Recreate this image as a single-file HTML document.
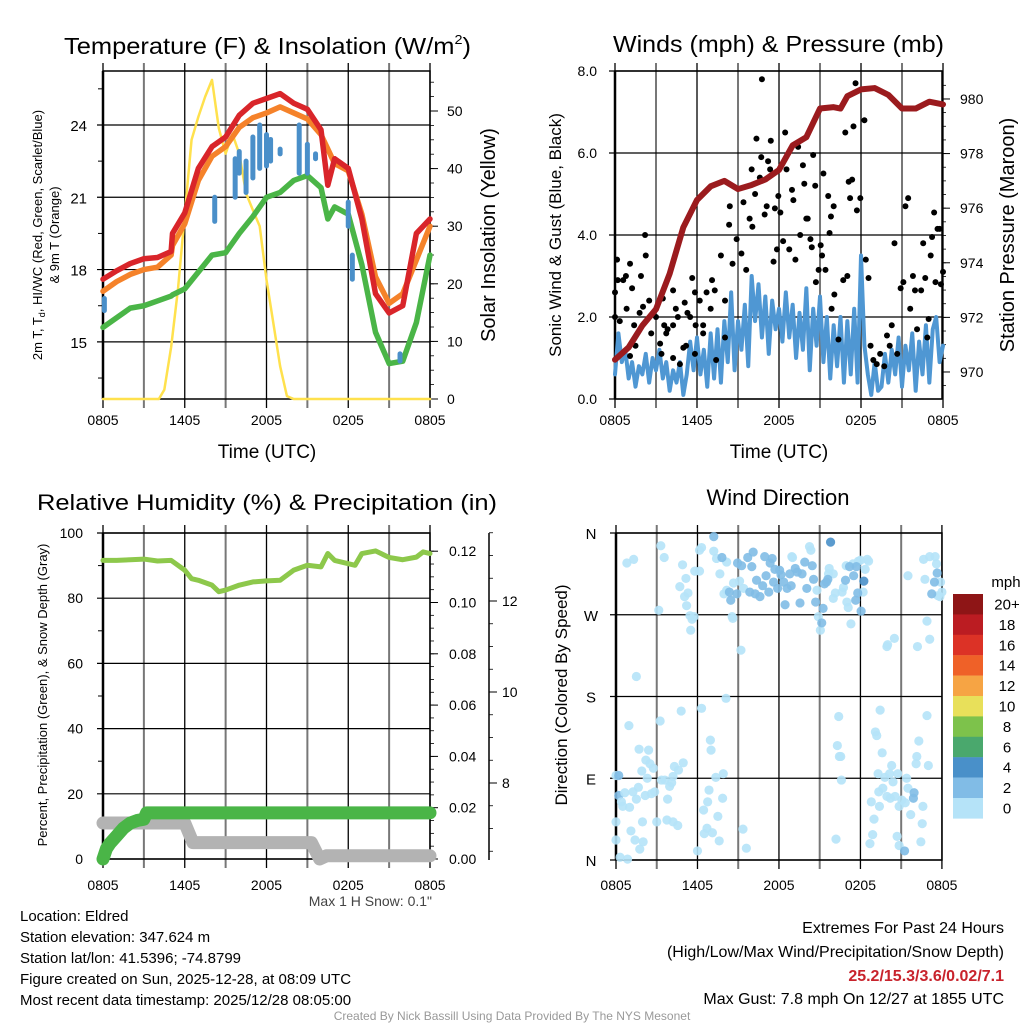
<!DOCTYPE html>
<html><head><meta charset="utf-8"><style>
html,body{margin:0;padding:0;background:#fff}
svg{display:block;font-family:"Liberation Sans",sans-serif}
</style></head><body>
<svg id="svg" width="1024" height="1024" viewBox="0 0 1024 1024" xmlns="http://www.w3.org/2000/svg">
<g id="g"></g>
<text x="64" y="54" font-size="23" textLength="407" lengthAdjust="spacingAndGlyphs">Temperature (F) &amp; Insolation (W/m<tspan font-size="13" dy="-10">2</tspan><tspan dy="10">)</tspan></text>
<text x="613" y="52" font-size="23" textLength="331" lengthAdjust="spacingAndGlyphs">Winds (mph) &amp; Pressure (mb)</text>
<text x="37" y="510" font-size="22" textLength="460" lengthAdjust="spacingAndGlyphs">Relative Humidity (%) &amp; Precipitation (in)</text>
<text x="778" y="505" font-size="22" text-anchor="middle">Wind Direction</text>
<text x="267" y="458" font-size="19" text-anchor="middle">Time (UTC)</text>
<text x="779" y="458" font-size="19" text-anchor="middle">Time (UTC)</text>
<text font-size="13" text-anchor="middle" transform="translate(42,235) rotate(-90)">2m T, T<tspan font-size="9" dy="3">d</tspan><tspan dy="-3">, HI/WC (Red, Green, Scarlet/Blue)</tspan></text>
<text font-size="13" text-anchor="middle" transform="translate(59,235) rotate(-90)">&amp; 9m T (Orange)</text>
<text font-size="20" text-anchor="middle" transform="translate(495,235) rotate(-90)">Solar Insolation (Yellow)</text>
<text font-size="17" text-anchor="middle" transform="translate(561,235) rotate(-90)">Sonic Wind &amp; Gust (Blue, Black)</text>
<text font-size="20" text-anchor="middle" transform="translate(1014,235) rotate(-90)">Station Pressure (Maroon)</text>
<text font-size="13" text-anchor="middle" transform="translate(47,695) rotate(-90)">Percent, Precipitation (Green), &amp; Snow Depth (Gray)</text>
<text font-size="17" text-anchor="middle" transform="translate(567,695) rotate(-90)">Direction (Colored By Speed)</text>
<text x="432" y="906" font-size="14" fill="#444" text-anchor="end">Max 1 H Snow: 0.1"</text>
<g font-size="15">
<text x="20" y="921">Location: Eldred</text>
<text x="20" y="942">Station elevation: 347.624 m</text>
<text x="20" y="963">Station lat/lon: 41.5396; -74.8799</text>
<text x="20" y="984">Figure created on Sun, 2025-12-28, at 08:09 UTC</text>
<text x="20" y="1005">Most recent data timestamp: 2025/12/28 08:05:00</text>
</g>
<g font-size="16" text-anchor="end">
<text x="1004" y="933">Extremes For Past 24 Hours</text>
<text x="1004" y="957">(High/Low/Max Wind/Precipitation/Snow Depth)</text>
<text x="1004" y="981" fill="#c8232c" font-weight="bold">25.2/15.3/3.6/0.02/7.1</text>
<text x="1004" y="1004">Max Gust: 7.8 mph On 12/27 at 1855 UTC</text>
</g>
<text x="512" y="1020" font-size="12" fill="#999" text-anchor="middle">Created By Nick Bassill Using Data Provided By The NYS Mesonet</text>
</svg>
<script>
// ---------- data ----------
const timeTickLabels=["0805","1405","2005","0205","0805"];
const tempHours=[0,1,2,3,4,5,5.1,6,7,8,9,10,11,12,13,14,15,16,16.5,17,18,19,20,21,22,23,24];
const temp2m=[17.6,17.95,18.25,18.45,18.5,18.75,19.5,20.35,22.2,23.1,23.5,24.4,24.9,25.1,25.3,24.9,24.65,23.8,21.5,22.6,22.2,20.1,17.0,16.2,16.5,19.5,20.1];
const temp9m=[17.1,17.5,17.8,18.0,18.1,18.6,19.0,19.9,21.7,22.7,23.1,23.9,24.3,24.5,24.75,24.5,24.25,23.6,23.0,22.4,22.1,20.3,17.7,16.6,17.0,18.4,19.8];
const dewpoint=[15.6,16.0,16.4,16.5,16.7,16.9,16.95,17.2,17.9,18.6,18.7,19.5,20.2,21.0,21.2,21.7,21.9,21.4,20.1,20.6,20.3,18.2,15.4,14.1,14.2,15.8,18.6];
const hiwcSegs=[[0.1,16.3,16.8],[8.2,20.0,21.0],[9.7,21.0,22.6],[10,22,22.9],[10.5,21.2,22.5],[11,21.8,23.5],[11.5,22.2,24.0],[12,22.3,23.6],[12.3,22.5,23.4],[13,22.8,23.0],[14.4,22.0,24.0],[15,22.0,23.2],[15.6,22.6,22.8],[18.0,19.8,20.8],[18.3,17.6,18.6],[21.8,14.2,14.5]];
const solarHours=[0,4.1,4.5,5,5.5,6,6.5,7,7.5,8,8.5,9,9.5,10,10.5,11,11.5,12,12.5,13,13.5,14,24];
const solar=[0,0,1.6,9,19,32,45,49,52.5,55.4,47,42.6,46,42.6,35.7,32.8,30,20.7,13.2,5.7,0.5,0,0];
const tempTicks=[15,18,21,24];
const solarTicks=[0,10,20,30,40,50];

const pressHours=[0,1,2,3,4,5,6,7,8,9,10,11,12,13,14,15,16,16.5,17,18,19,20,21,22,23,24];
const pressure=[970.45,970.9,971.7,972.3,973.6,975.3,976.3,976.8,977.0,976.7,976.85,977.05,977.4,978.3,978.6,979.65,979.7,979.65,980.1,980.35,980.4,980.15,979.65,979.65,979.9,979.8];
const windSpeed=[0.6,1.6,0.9,1.2,0.5,0.9,0.3,0.8,0.6,1.1,0.4,1.0,0.7,1.2,0.5,0.9,0.2,0.7,0.4,0.9,0.1,0.6,1.4,0.7,1.5,0.6,1.2,0.3,1.6,0.5,1.7,0.4,1.9,0.9,2.6,0.7,1.9,1.2,2.3,0.8,3.0,1.9,2.8,1.5,2.5,1.1,2.4,1.7,2.2,1.4,2.6,1.5,2.3,1.0,2.1,1.2,2.7,0.7,2.2,1.3,2.5,0.9,2.0,0.5,1.8,0.8,2.0,0.4,1.9,0.6,2.2,0.4,3.5,1.3,0.6,0.1,0.9,0.2,0.3,1.1,0.4,1.2,0.6,1.5,0.3,1.3,0.7,1.6,0.2,1.4,0.6,1.8,0.4,1.7,2.0,0.9,1.3];
const gusts=[[0,2.6],[0.15,3.4],[0,2.0],[0.2,2.9],[0.35,1.9],[0.6,2.9],[0.8,3.0],[1.1,3.3],[1.25,2.7],[0.85,2.2],[1.1,1.05],[1.4,1.8],[1.5,1.3],[1.8,2.1],[1.9,3.0],[2.2,4.0],[2.25,3.5],[2.05,2.25],[2.5,2.4],[2.65,1.6],[3.0,2.0],[3.3,1.35],[3.4,1.1],[3.5,2.45],[3.6,1.8],[3.75,1.6],[4.25,2.65],[4.25,1.8],[4.6,2.0],[4.75,0.85],[5.0,1.25],[5.1,2.35],[5.3,2.1],[5.65,2.95],[5.85,1.1],[5.85,2.6],[6.2,2.4],[6.45,1.8],[6.7,2.6],[7.0,2.2],[7.1,2.9],[7.3,2.65],[7.75,3.5],[8.05,2.4],[8.35,4.25],[8.4,4.7],[8.6,3.3],[8.9,3.9],[9.25,3.55],[9.4,4.8],[9.6,3.15],[9.85,4.4],[10.0,5.6],[10.05,4.2],[10.25,5.0],[10.35,6.35],[10.6,5.4],[10.7,5.9],[10.75,7.8],[10.95,4.5],[11.1,4.7],[11.2,5.8],[11.35,5.6],[11.4,6.3],[11.6,3.35],[11.7,4.65],[11.85,3.65],[11.95,4.95],[12.1,4.55],[12.3,3.85],[12.45,6.5],[12.55,5.6],[12.75,3.65],[12.95,5.1],[13.05,4.85],[13.2,3.4],[13.4,6.15],[13.55,4.0],[13.75,5.7],[13.85,5.25],[14.0,4.4],[14.1,4.4],[14.3,3.9],[14.4,3.7],[14.5,5.95],[14.65,5.2],[14.7,2.85],[14.9,3.15],[15.05,3.75],[15.15,3.5],[15.25,5.5],[15.4,3.15],[15.6,4.95],[15.7,4.05],[15.8,4.45],[16.0,4.7],[15.85,2.2],[16.05,2.55],[16.35,1.45],[16.7,2.9],[16.85,6.5],[17.0,3.0],[17.1,5.3],[17.2,4.9],[17.35,5.35],[17.45,6.65],[17.6,7.7],[17.7,4.6],[17.95,4.9],[18.25,6.8],[18.35,3.4],[18.55,2.95],[18.7,1.3],[18.9,0.95],[19.15,0.85],[19.4,1.1],[19.7,0.8],[19.9,1.55],[20.1,1.3],[20.25,1.8],[20.45,3.8],[20.65,1.1],[20.9,2.7],[21.1,2.85],[21.25,4.7],[21.45,4.9],[21.6,2.2],[21.8,3.0],[21.95,2.65],[22.1,1.7],[22.4,2.65],[22.55,3.8],[22.7,2.95],[22.85,1.5],[22.95,1.95],[23.1,3.5],[23.2,3.95],[23.35,4.55],[23.45,2.85],[23.6,4.15],[23.75,4.15],[23.85,2.8],[24.0,3.1],[4.25,1.0],[5.2,1.3],[6.45,1.6],[7.4,0.95],[8.05,1.5],[5.9,1.8],[5.5,2.0],[4.45,2.2],[3.85,1.7]];
const windTicks=[0,2,4,6,8];
const pressTicks=[970,972,974,976,978,980];

const rhHours=[0,1,2,3,4,5,6,6.5,7,8,8.5,9,10,11,12,13,14,15,16,16.5,17,18,18.5,19,20,21,22,23,23.5,24];
const rh=[91.6,91.6,91.8,92,91.4,91.6,88.6,86,85.5,84,82,82.5,84,85,85.3,85.5,88.6,90.1,89.6,93.7,91.6,90.6,90.1,93.7,94.5,92.5,91.8,92.6,94.2,93.7];
const precipHours=[0,0.25,0.5,1,1.5,2,2.5,3,3.2,24];
const precip=[0,0.004,0.006,0.009,0.012,0.014,0.015,0.0155,0.018,0.018];
const snowHours=[0,6,6.6,15.3,15.9,16.4,17.1,17.6,24];
const snow=[7.12,7.12,6.69,6.69,6.33,6.4,6.4,6.4,6.4];
const rhTicks=[0,20,40,60,80,100];
const precipTicks=[0,0.02,0.04,0.06,0.08,0.10,0.12];
const snowTicks=[8,10,12];

const dirPoints=[[0,93,1],[0.2,93,3],[0,42,1],[0,22,1],[0.3,3,1],[0.85,1,1],[0.2,71,3],[0.4,64,1],[0.5,59,1],[0.65,74,1],[1.0,58,1],[1.1,32,1],[1.4,22,1],[1.75,12,1],[2.0,20,1],[1.95,42,1],[1.5,67,1],[1.25,75,1],[1.65,80,1],[1.9,98,1],[2.3,90,1],[2.15,71,1],[2.4,121,1],[1.7,122,1],[2.2,110,1],[2.5,106,1],[2.75,101,1],[2.6,73,1],[2.85,75,1],[3.0,42,1],[3.35,88,1],[3.6,88,1],[3.8,67,1],[3.95,81,1],[4.1,85,1],[4.2,92,1],[4.3,103,1],[4.6,99,1],[4.95,107,1],[3.75,44,1],[4.2,42,1],[4.55,38,1],[3.25,153,1],[1.5,202,1],[0.95,148,1],[4.8,164,1],[6,10,1],[6.3,167,1],[6.45,55,1],[6.5,29,1],[6.7,35,1],[6.75,64,1],[6.85,77,1],[6.95,132,1],[7.0,121,1],[7.1,30,1],[7.35,91,1],[7.5,48,1],[7.6,21,1],[7.85,68,1],[7.9,95,1],[8.1,178,1],[9.35,34,1],[9.6,13,1],[9.2,231,1],[16.2,23,1],[16.4,158,1],[16.3,126,1],[16.45,114,1],[16.55,114,1],[16.6,88,1],[18.7,18,1],[18.9,28,1],[19.0,45,1],[18.8,64,1],[19.1,141,1],[19.2,137,1],[19.3,95,1],[19.45,165,1],[19.4,59,1],[19.35,75,1],[19.6,118,1],[19.65,79,1],[19.8,91,1],[19.95,70,1],[20.15,95,1],[20.2,68,1],[20.3,104,1],[20.4,86,1],[20.55,70,1],[20.7,26,1],[20.75,95,1],[20.85,16,1],[20.85,59,1],[21.05,66,1],[21.25,10,3],[21.3,63,1],[21.4,90,1],[21.5,79,1],[21.7,50,1],[21.9,68,3],[21.95,74,3],[22.1,106,1],[22.15,114,1],[22.3,131,1],[22.45,20,1],[22.55,40,1],[22.6,59,1],[22.9,159,1],[23.0,104,1],[19.95,235,1],[20.0,237,1],[20.5,244,1],[22.2,235,1],[22.9,263,1],[23.1,243,1],[17.3,260,1],[0.8,327,1],[1.3,331,1],[3.15,275,1],[3.3,346,1],[3.55,333,1],[4.9,325,1],[5.15,310,1],[4.7,301,1],[5.3,294,1],[5.05,290,1],[5.2,280,1],[5.45,269,1],[5.6,265,1],[5.75,268,1],[5.5,253,1],[5.8,318,1],[6.15,318,1],[6.15,341,1],[6.3,344,1],[7.2,356,3],[7.2,340,1],[7.4,332,1],[7.65,315,1],[7.95,293,1],[8.15,297,1],[8.15,328,1],[8.55,268,1],[8.6,266,1],[8.65,305,1],[9.1,307,1],[9.4,299,1],[12.95,334,1],[13.0,333,1],[14.25,345,1],[14.35,341,1],[14.8,297,1],[14.9,268,1],[15.05,253,1],[15.7,321,1],[15.65,315,1],[16.0,315,1],[16.0,288,1],[16.15,294,1],[16.65,295,1],[16.75,300,1],[16.95,324,1],[17.0,284,1],[17.1,278,1],[17.45,326,1],[17.85,329,1],[18.0,330,1],[18.2,295,1],[18.35,320,1],[18.5,331,1],[18.6,329,1],[21.5,313,1],[22.65,331,1],[22.75,309,1],[23.1,334,1],[23.5,334,1],[23.6,326,1],[23.7,291,1],[23.85,290,1],[23.9,306,1],[24,295,1],[7.8,333,3],[8.35,295,3],[8.45,286,3],[8.9,293,3],[8.95,327,3],[9.25,324,3],[9.7,333,3],[10.1,339,3],[10.0,323,3],[10.35,308,3],[9.85,295,3],[10.25,293,3],[10.6,290,3],[10.8,302,3],[10.95,334,3],[11.05,313,3],[11.25,295,3],[11.35,327,3],[11.5,332,3],[11.6,306,3],[11.7,320,3],[11.9,299,3],[12.05,319,3],[12.15,314,3],[12.35,306,3],[12.45,281,3],[12.6,299,3],[12.8,315,3],[12.9,302,3],[13.2,321,3],[13.35,317,3],[13.55,283,3],[13.7,315,3],[13.9,328,3],[14.05,299,3],[14.45,324,3],[14.55,309,3],[14.7,284,3],[15.25,277,3],[15.15,261,3],[15.35,304,3],[15.5,306,3],[15.6,309,3],[15.8,350,4.5],[16.9,308,3],[17.2,323,3],[17.5,313,3],[17.65,286,3],[17.7,323,3],[17.8,294,3],[18.05,274,3],[18.25,307,4.5],[23.45,306,3],[23.25,293,3],[23.65,316,3]];
const dirTickLabels=["N","E","S","W","N"];
const speedBins=["0","2","4","6","8","10","12","14","16","18","20+"];
const speedColors=["#b5e3f8","#81bce6","#4990c9","#4aa86d","#7dc24b","#e8e05a","#f6a444","#ef6128","#dc3226","#bb1c22","#8e1516"];

// ---------- axes ----------
const XA=h=>103+h*13.625, XB=h=>615+h*13.667, XD=h=>616+h*13.58;
const YT=t=>399-(t-12.63)*24.1, YS=s=>399-s*5.76;
const YW=v=>399-v*41, YP=p=>399-(p-969.01)*27.3;
const YR=r=>859-r*3.26, YPr=i=>859-i*2565, YSn=s=>783+(8-s)*45.5;
const YD=d=>860-d*0.9083;

const NS='http://www.w3.org/2000/svg', G=document.getElementById('g');
function mk(tag,at,parent){const e=document.createElementNS(NS,tag);for(const k in at)e.setAttribute(k,at[k]);(parent||G).appendChild(e);return e;}
function line(x1,y1,x2,y2,st,w,p){return mk('line',{x1,y1,x2,y2,stroke:st,'stroke-width':w},p);}
function txt(x,y,s,sz,anchor,p){const t=mk('text',{x,y,'font-size':sz,'text-anchor':anchor},p);t.textContent=s;return t;}

function panel(name,x0,x1,y0,y1,X,ylines,labY){
  const p=mk('g',{});
  
  
  for(let i=0;i<=8;i++){const x=X(i*3);line(x,y0-8,x,y1+9,i%2?'#777':'#000',i%2?2:1.3,p);}
  ylines.forEach((y,i)=>line(x0-6,y,x1,y,'#000',1.2,p));
  mk('rect',{x:x0,y:y0,width:x1-x0,height:y1-y0,fill:'none',stroke:'#000','stroke-width':1.5},p);
  line(x0,y0,x0,y1,'#000',2.5,p);
  timeTickLabels.forEach((l,i)=>txt(X(i*6),labY,l,14,'middle',p));
  return p;
}
function poly(xs,ys,X,Y,st,w,name,op){
  const e=mk('polyline',{points:xs.map((h,i)=>X(h)+','+Y(ys[i])).join(' '),fill:'none',stroke:st,'stroke-width':w,'stroke-linejoin':'round','stroke-linecap':'round'});
  if(op)e.setAttribute('opacity',op);
  
  
  return e;
}

// ---- Temperature panel ----
const p1=panel('temp',103,430,71,399,XA,tempTicks.map(YT),425);
tempTicks.forEach(t=>txt(87,YT(t)+6,String(t),15,'end',p1));
for(let t=13.5;t<26.3;t+=3)line(98,YT(t),103,YT(t),'#000',1,p1);
solarTicks.forEach(s=>{line(430,YS(s),438,YS(s),'#000',1,p1);txt(447,YS(s)+5,String(s),14,'start',p1);});
for(let s=0;s<=56;s+=2.5)line(430,YS(s),434,YS(s),'#000',0.8,p1);
poly(solarHours,solar,XA,YS,'#ffe14d',2.5,'solar-line');
poly(tempHours,dewpoint,XA,YT,'#4ab547',5.5,'dewpoint-line');
poly(tempHours,temp9m,XA,YT,'#f5822a',5.5,'temp-9m-line');
poly(tempHours,temp2m,XA,YT,'#d9252a',5.5,'temp-2m-line');
hiwcSegs.forEach(s=>{const e=line(XA(s[0]),YT(s[1]),XA(s[0]),YT(s[2]),'#4a8fc9',5);e.setAttribute('stroke-linecap','round');

});

// ---- Wind panel ----
const p2=panel('wind',615,942,71,399,XB,windTicks.map(YW),425);
windTicks.forEach(v=>txt(597,YW(v)+5,v.toFixed(1),14,'end',p2));
pressTicks.forEach(p=>{line(942,YP(p),950,YP(p),'#000',1,p2);txt(960,YP(p)+5,String(p),14,'start',p2);});
for(let p=969.5;p<981;p+=0.5)line(942,YP(p),946,YP(p),'#000',0.8,p2);
poly(windSpeed.map((v,i)=>i*0.25),windSpeed,XB,YW,'#4f97d3',4,'wind-speed-line');
gusts.forEach(g=>{const c=mk('circle',{cx:XB(g[0]),cy:YW(g[1]),r:3,fill:'#000'});

});
poly(pressHours,pressure,XB,YP,'#9b1b1e',6,'pressure-line');

// ---- RH panel ----
const p3=panel('rh',103,430,533,859,XA,rhTicks.map(YR),890);
rhTicks.forEach(r=>txt(83,YR(r)+5,String(r),14,'end',p3));
for(let r=10;r<100;r+=20)line(98,YR(r),103,YR(r),'#000',1,p3);
precipTicks.forEach(v=>{line(430,YPr(v),438,YPr(v),'#000',1,p3);txt(449,YPr(v)+5,v.toFixed(2),14,'start',p3);});
for(let v=0;v<=0.125;v+=0.005)line(430,YPr(v),434,YPr(v),'#000',0.8,p3);
line(489,533,489,860,'#000',1.5,p3);
snowTicks.forEach(s=>{line(489,YSn(s),497,YSn(s),'#000',1,p3);txt(502,YSn(s)+5,String(s),14,'start',p3);});
for(let s=6.5;s<=13.5;s+=0.5)line(489,YSn(s),493,YSn(s),'#000',0.8,p3);
poly(snowHours,snow,XA,YSn,'#b3b3b3',13,'snow-depth-line');
poly(precipHours,precip,XA,YPr,'#4ab547',13,'precip-line');
poly(rhHours,rh,XA,YR,'#8dc84b',5,'rh-line');

// ---- Direction panel ----
const p4=panel('dir',616,942,533,860,XD,[0,90,180,270,360].map(YD),890);
dirTickLabels.forEach((l,i)=>txt(591,YD(i*90)+6,l,15,'middle',p4));
const binColor=s=>speedColors[Math.min(10,Math.floor(s/2))];
dirPoints.forEach(d=>{const c=mk('circle',{cx:XD(d[0]),cy:YD(d[1]),r:4.6,fill:binColor(d[2]),opacity:0.9});

});
const lg=mk('g',{});


txt(1006,587,'mph',15,'middle',lg);
speedBins.forEach((b,i)=>{const k=10-i;const y=594+i*20.4;
 mk('rect',{x:953,y:y,width:30,height:20.6,fill:speedColors[k]},lg);
 txt(1007,y+15.5,speedBins[k],15,'middle',lg);});
</script>
</body></html>
